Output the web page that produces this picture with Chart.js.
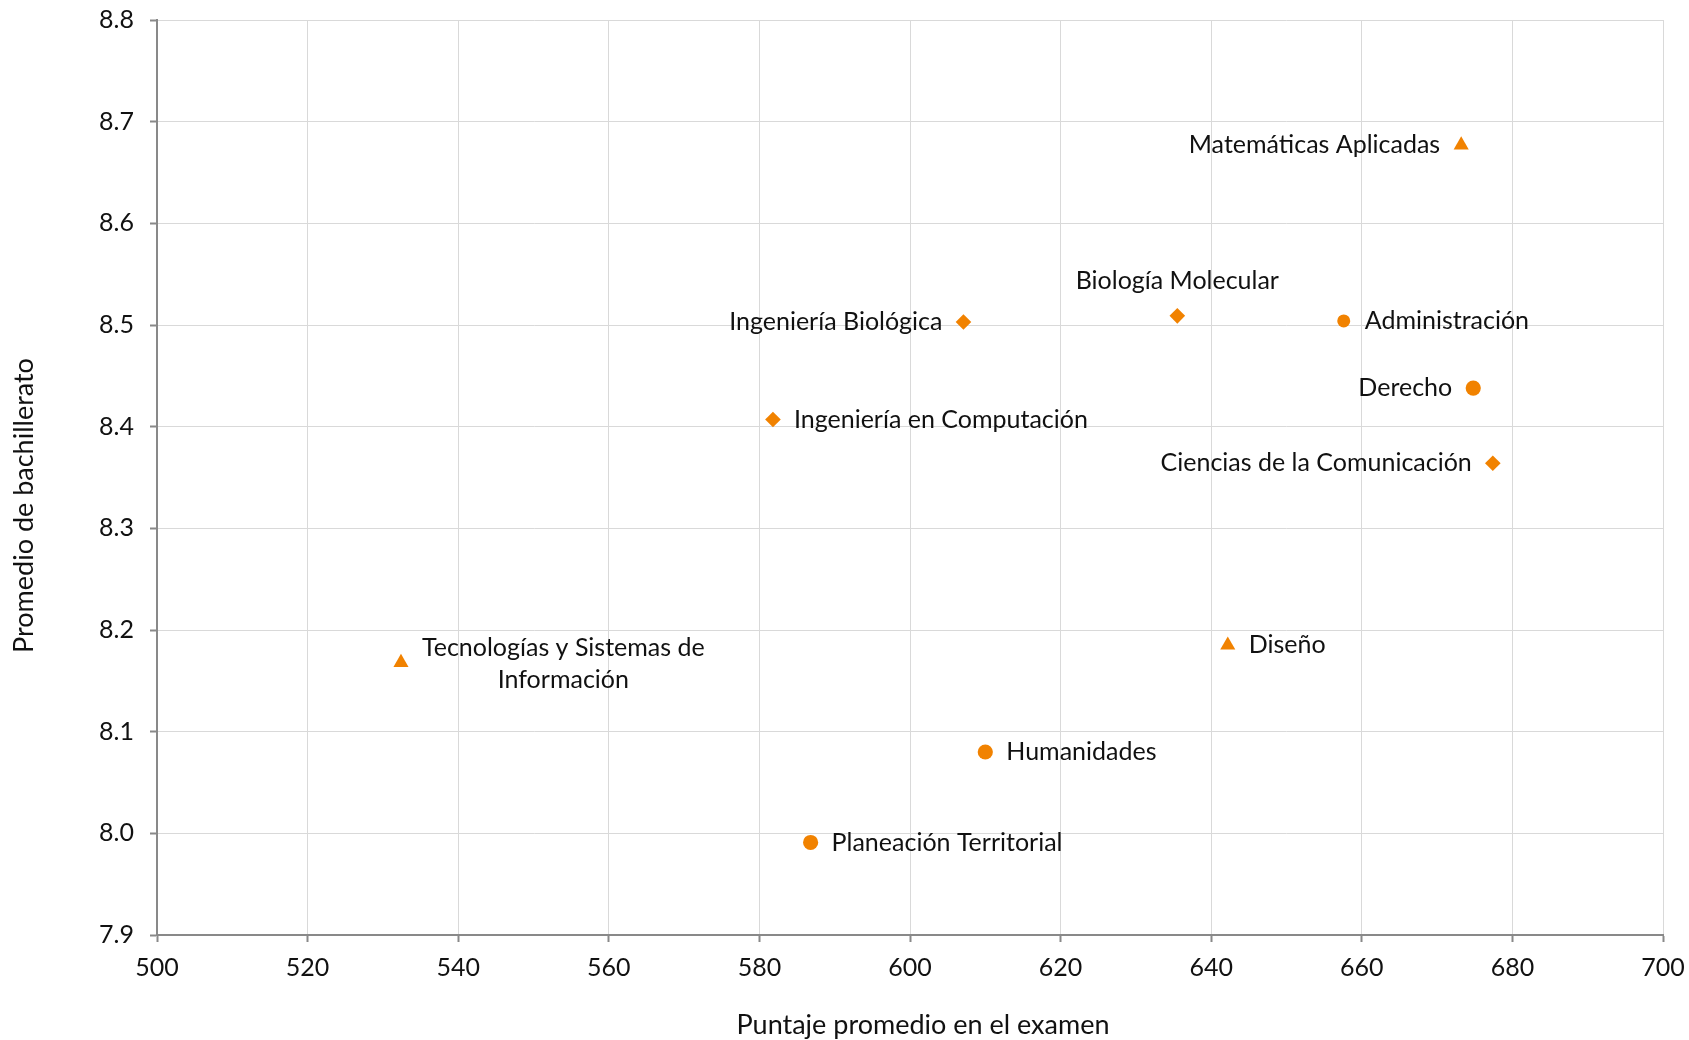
<!DOCTYPE html>
<html>
<head>
<meta charset="utf-8">
<script src="https://cdn.jsdelivr.net/npm/chart.js@4.4.0/dist/chart.umd.min.js"></script>
<style>
html, body { margin: 0; padding: 0; background: #fff; }
#wrap { width: 1689px; height: 1040px; }
</style>
</head>
<body>
<div id="wrap"><canvas id="chart"></canvas></div>
<script>
// carreras agrupadas por el tipo de marcador
const triCareers = ['Matemáticas Aplicadas', 'Tecnologías y Sistemas de Información', 'Diseño'];
const triScore   = [673.2, 532.4, 642.2];
const triAvg     = [8.677, 8.168, 8.185];

const diaCareers = ['Biología Molecular', 'Ciencias de la Comunicación', 'Ingeniería Biológica', 'Ingeniería en Computación'];
const diaScore   = [635.5, 677.4, 607.1, 581.8];
const diaAvg     = [8.509, 8.364, 8.503, 8.407];

const cirCareers = ['Administración', 'Derecho', 'Humanidades', 'Planeación Territorial'];
const cirScore   = [657.6, 674.8, 610.0, 586.8];
const cirAvg     = [8.504, 8.438, 8.080, 7.991];

const xTicks = [500, 520, 540, 560, 580, 600, 620, 640, 660, 680, 700];
const yTicks = [7.9, 8.0, 8.1, 8.2, 8.3, 8.4, 8.5, 8.6, 8.7, 8.8];

// donde va cada etiqueta respecto al punto
const labelSide = {
  'Matemáticas Aplicadas': 'left',
  'Tecnologías y Sistemas de Información': 'right2',
  'Diseño': 'right',
  'Biología Molecular': 'above',
  'Ciencias de la Comunicación': 'left',
  'Ingeniería Biológica': 'left',
  'Ingeniería en Computación': 'right',
  'Administración': 'right',
  'Derecho': 'left',
  'Humanidades': 'right',
  'Planeación Territorial': 'right'
};

const ORANGE = '#F18200';
const FONT = 'Lato, "Open Sans", sans-serif';
const TEXT = '#111';

function toPoints(xs, ys) {
  return xs.map((x, i) => ({ x: x, y: ys[i] }));
}

const pointLabels = {
  id: 'pointLabels',
  afterDatasetsDraw(chart) {
    const ctx = chart.ctx;
    ctx.save();
    ctx.font = '25px ' + FONT;
    ctx.fillStyle = TEXT;
    ctx.textBaseline = 'middle';
    chart.data.datasets.forEach((ds, di) => {
      const meta = chart.getDatasetMeta(di);
      meta.data.forEach((pt, i) => {
        const name = ds.names[i];
        const side = labelSide[name];
        const gap = 21;
        if (side === 'left') {
          ctx.textAlign = 'right';
          ctx.fillText(name, pt.x - gap, pt.y);
        } else if (side === 'right') {
          ctx.textAlign = 'left';
          ctx.fillText(name, pt.x + gap, pt.y);
        } else if (side === 'above') {
          ctx.textAlign = 'center';
          ctx.fillText(name, pt.x, pt.y - 35);
        } else if (side === 'right2') {
          const l1 = 'Tecnologías y Sistemas de';
          const l2 = 'Información';
          const w = ctx.measureText(l1).width;
          ctx.textAlign = 'center';
          ctx.fillText(l1, pt.x + gap + w / 2, pt.y - 15);
          ctx.fillText(l2, pt.x + gap + w / 2, pt.y + 17);
        }
      });
    });
    ctx.restore();
  }
};

const axisTitles = {
  id: 'axisTitles',
  afterDraw(chart) {
    const ctx = chart.ctx;
    const area = chart.chartArea;
    ctx.save();
    ctx.font = '27px ' + FONT;
    ctx.fillStyle = TEXT;
    ctx.textAlign = 'center';
    ctx.textBaseline = 'middle';
    ctx.fillText('Puntaje promedio en el examen', (area.left + area.right) / 2 + 13, 1025);
    ctx.translate(24, (area.top + area.bottom) / 2 + 28);
    ctx.rotate(-Math.PI / 2);
    ctx.fillText('Promedio de bachillerato', 0, 0);
    ctx.restore();
  }
};

new Chart(document.getElementById('chart'), {
  type: 'scatter',
  data: {
    datasets: [
      {
        label: 'triángulos',
        names: triCareers,
        data: toPoints(triScore, triAvg),
        pointStyle: 'triangle',
        pointRadius: 8.7,
        backgroundColor: ORANGE,
        borderColor: ORANGE,
        borderWidth: 0
      },
      {
        label: 'rombos',
        names: diaCareers,
        data: toPoints(diaScore, diaAvg),
        pointStyle: 'rectRot',
        pointRadius: 7.8,
        backgroundColor: ORANGE,
        borderColor: ORANGE,
        borderWidth: 0
      },
      {
        label: 'círculos',
        names: cirCareers,
        data: toPoints(cirScore, cirAvg),
        pointStyle: 'circle',
        pointRadius: [6.5, 7.6, 7.6, 7.6],
        backgroundColor: ORANGE,
        borderColor: ORANGE,
        borderWidth: 0
      }
    ]
  },
  options: {
    responsive: true,
    maintainAspectRatio: false,
    animation: false,
    layout: { padding: { top: 20, right: 26, left: 0, bottom: 0 } },
    plugins: {
      legend: { display: false },
      tooltip: { enabled: false }
    },
    scales: {
      x: {
        type: 'linear',
        min: xTicks[0],
        max: xTicks[xTicks.length - 1],
        afterBuildTicks: (s) => { s.ticks = xTicks.map(v => ({ value: v })); },
        afterFit: (s) => { s.height = 105; s.paddingLeft = 0; s.paddingRight = 0; },
        grid: { color: '#d9d9d9', lineWidth: 1, tickColor: '#898989', tickLength: 7, tickWidth: 2 },
        border: { color: '#898989', width: 2 },
        ticks: {
          color: TEXT,
          font: { family: FONT, size: 25 },
          padding: 11,
          callback: (v) => String(v)
        }
      },
      y: {
        type: 'linear',
        min: yTicks[0],
        max: yTicks[yTicks.length - 1],
        afterBuildTicks: (s) => { s.ticks = yTicks.map(v => ({ value: v })); },
        afterFit: (s) => { s.width = 157; s.paddingTop = 0; s.paddingBottom = 0; },
        grid: { color: '#d9d9d9', lineWidth: 1, tickColor: '#898989', tickLength: 7, tickWidth: 2 },
        border: { color: '#898989', width: 2 },
        ticks: {
          color: TEXT,
          font: { family: FONT, size: 25 },
          padding: 16,
          callback: (v) => Number(v).toFixed(1)
        }
      }
    }
  },
  plugins: [pointLabels, axisTitles]
});
</script>
</body>
</html>
